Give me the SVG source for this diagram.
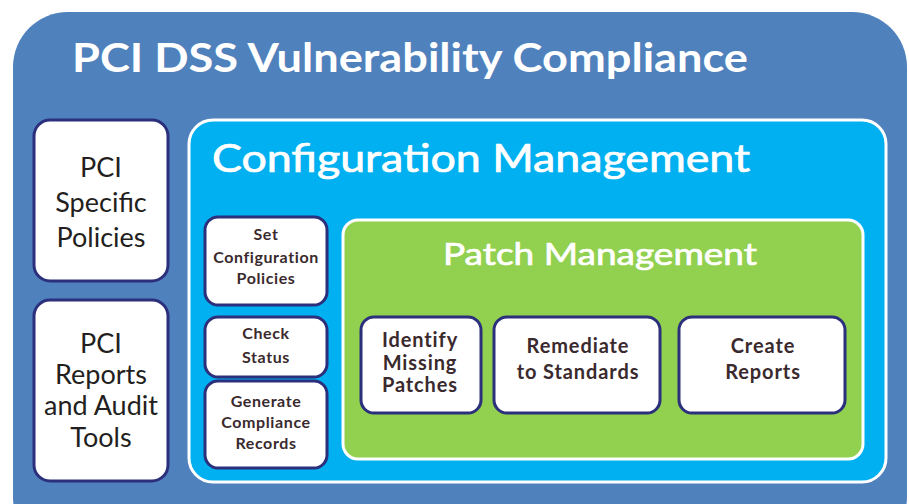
<svg xmlns="http://www.w3.org/2000/svg" width="909" height="504" viewBox="0 0 909 504">
  <style>
    .hdr { font-family: Lato, "Open Sans", "DejaVu Sans", sans-serif; fill: #ffffff; }
    .med { stroke: #ffffff; stroke-width: 0.7; }
    .side { fill: #ffffff; stroke: #2B2F7C; stroke-width: 3; }
    .sideTxt { font-family: Lato, "Open Sans", "DejaVu Sans", sans-serif; font-size: 27px; fill: #231F20; text-anchor: middle; }
    .task { fill: #ffffff; stroke: #2B2F7C; stroke-width: 3; }
    .taskTxt { font-family: Lato, "Open Sans", "DejaVu Sans", sans-serif; font-weight: bold; fill: #3A2A2E; text-anchor: middle; }
    .sm { font-size: 16px; letter-spacing: 0.6px; }
    .lg { font-size: 20px; letter-spacing: 0.9px; }
  </style>

  <rect x="0" y="0" width="909" height="504" fill="#ffffff"/>

  <!-- outer compliance container -->
  <g id="compliance">
    <rect x="13" y="12" width="894" height="540" rx="55" fill="#4F81BD"/>
    <text class="hdr" x="72" y="72" font-size="40" font-weight="bold" textLength="676" lengthAdjust="spacingAndGlyphs">PCI DSS Vulnerability Compliance</text>
  </g>

  <g id="pci-policies">
    <rect class="side" x="34" y="120" width="134" height="161" rx="16"/>
    <text class="sideTxt" x="101" y="177">PCI</text>
    <text class="sideTxt" x="101" y="212">Specific</text>
    <text class="sideTxt" x="101" y="247">Policies</text>
  </g>

  <g id="pci-reports">
    <rect class="side" x="34" y="300" width="134" height="181" rx="16"/>
    <text class="sideTxt" x="101" y="353">PCI</text>
    <text class="sideTxt" x="101" y="384">Reports</text>
    <text class="sideTxt" x="101" y="415">and Audit</text>
    <text class="sideTxt" x="101" y="447">Tools</text>
  </g>

  <!-- configuration management container -->
  <g id="configuration">
    <rect x="189" y="120" width="697" height="362" rx="24" fill="#00B0F0" stroke="#ffffff" stroke-width="3"/>
    <text class="hdr med" x="212" y="172" font-size="38" textLength="538" lengthAdjust="spacingAndGlyphs">Configuration Management</text>
  </g>

  <g id="set-policies">
    <rect class="task" x="205" y="217" width="122" height="88" rx="13"/>
    <text class="taskTxt sm" x="266" y="240">Set</text>
    <text class="taskTxt sm" x="266" y="263">Configuration</text>
    <text class="taskTxt sm" x="266" y="284">Policies</text>
  </g>

  <g id="check-status">
    <rect class="task" x="205" y="317" width="122" height="60" rx="13"/>
    <text class="taskTxt sm" x="266" y="339">Check</text>
    <text class="taskTxt sm" x="266" y="363">Status</text>
  </g>

  <g id="compliance-records">
    <rect class="task" x="205" y="381" width="122" height="87" rx="13"/>
    <text class="taskTxt sm" x="266" y="407">Generate</text>
    <text class="taskTxt sm" x="266" y="428">Compliance</text>
    <text class="taskTxt sm" x="266" y="449">Records</text>
  </g>

  <!-- patch management container -->
  <g id="patch">
    <rect x="343" y="220" width="520" height="239" rx="15" fill="#92D050" stroke="#ffffff" stroke-width="3"/>
    <text class="hdr med" x="600" y="265" font-size="31" text-anchor="middle" textLength="314" lengthAdjust="spacingAndGlyphs">Patch Management</text>
  </g>

  <g id="identify">
    <rect class="task" x="361" y="317" width="120" height="96" rx="13"/>
    <text class="taskTxt lg" x="420" y="347">Identify</text>
    <text class="taskTxt lg" x="420" y="370">Missing</text>
    <text class="taskTxt lg" x="420" y="392">Patches</text>
  </g>

  <g id="remediate">
    <rect class="task" x="494" y="317" width="166" height="96" rx="13"/>
    <text class="taskTxt lg" x="578" y="353">Remediate</text>
    <text class="taskTxt lg" x="578" y="379">to Standards</text>
  </g>

  <g id="create-reports">
    <rect class="task" x="679" y="317" width="166" height="96" rx="13"/>
    <text class="taskTxt lg" x="763" y="353">Create</text>
    <text class="taskTxt lg" x="763" y="379">Reports</text>
  </g>

  <g id="connectors"/>
</svg>
